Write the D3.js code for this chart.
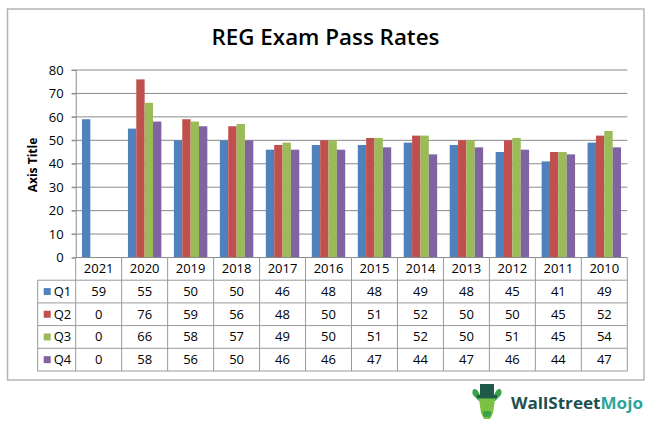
<!DOCTYPE html>
<html>
<head>
<meta charset="utf-8">
<script src="https://cdn.jsdelivr.net/npm/d3@7"></script>
<style>
  html, body { margin: 0; padding: 0; background: #fff; }
  svg { display: block; }
  text { font-family: "Open Sans", "Noto Sans", sans-serif; }
</style>
</head>
<body>
<svg id="chart" width="655" height="426"></svg>
<script>
const years = ["2021","2020","2019","2018","2017","2016","2015","2014","2013","2012","2011","2010"];
const seriesNames = ["Q1","Q2","Q3","Q4"];
const q1 = [59,55,50,50,46,48,48,49,48,45,41,49];
const q2 = [0,76,59,56,48,50,51,52,50,50,45,52];
const q3 = [0,66,58,57,49,50,51,52,50,51,45,54];
const q4 = [0,58,56,50,46,46,47,44,47,46,44,47];
const yTicks = [0,10,20,30,40,50,60,70,80];
const colors = ["#4F81BD","#C0504D","#9BBB59","#8064A2"];

const seriesValues = [q1,q2,q3,q4];
const svg = d3.select("#chart");

const L = 75.7, R = 627.3, T = 70, B = 257.5;
const rowH = 22.7;

// outer border
svg.append("rect").attr("x", 7.5).attr("y", 9).attr("width", 636.5).attr("height", 371)
  .attr("fill", "#fff").attr("stroke", "#b4b4b4").attr("stroke-width", 1.5);

// title
svg.append("text").attr("x", 325.5).attr("y", 45).attr("text-anchor", "middle")
  .attr("font-size", 22).attr("font-weight", 600).attr("fill", "#000")
  .attr("textLength", 228).attr("lengthAdjust", "spacingAndGlyphs")
  .text("REG Exam Pass Rates");

const x = d3.scaleBand().domain(years).range([L, R]).paddingInner(0).paddingOuter(0);
const xi = d3.scaleBand().domain(seriesNames).range([0, x.bandwidth()]).paddingInner(0).paddingOuter(0.75);
const y = d3.scaleLinear().domain([0, 80]).range([B, T]);

// gridlines
svg.append("g").selectAll("line").data(yTicks.filter(d => d > 0)).join("line")
  .attr("x1", L - 4).attr("x2", R).attr("y1", d => y(d)).attr("y2", d => y(d))
  .attr("stroke", "#8a8a8a").attr("stroke-width", 1);

// y axis
const yAxis = d3.axisLeft(y).tickValues(yTicks).tickSize(4).tickPadding(8);
const gy = svg.append("g").attr("transform", `translate(${L},0)`).call(yAxis);
gy.select(".domain").attr("stroke", "#8a8a8a");
gy.selectAll(".tick line").attr("stroke", "#8a8a8a");
gy.selectAll(".tick text").attr("font-size", 13).attr("fill", "#000")
  .attr("font-family", "'Open Sans', sans-serif");

// axis title
svg.append("text").attr("transform", `translate(37,165) rotate(-90)`)
  .attr("text-anchor", "middle").attr("font-size", 12).attr("font-weight", 700)
  .attr("fill", "#000").text("Axis Title");

// bars
const gBars = svg.append("g");
seriesNames.forEach((s, si) => {
  gBars.append("g").selectAll("rect").data(years.map((yr, i) => ({yr, v: seriesValues[si][i]})))
    .join("rect")
    .attr("x", d => x(d.yr) + xi(s))
    .attr("width", xi.bandwidth())
    .attr("y", d => y(d.v))
    .attr("height", d => B - y(d.v))
    .attr("fill", colors[si]);
});

// data table
const tbl = svg.append("g");
const lineColor = "#9a9a9a";
const legL = 37.7;
// horizontal lines
const hY = [B, B + rowH, B + 2*rowH, B + 3*rowH, B + 4*rowH, B + 5*rowH];
hY.forEach((yy, i) => {
  tbl.append("line").attr("x1", i === 0 ? L : legL).attr("x2", R)
    .attr("y1", yy).attr("y2", yy).attr("stroke", i === 0 ? "#8a8a8a" : lineColor);
});
// vertical lines
years.forEach(yr => {
  tbl.append("line").attr("x1", x(yr)).attr("x2", x(yr)).attr("y1", B).attr("y2", B + 5*rowH)
    .attr("stroke", lineColor);
});
tbl.append("line").attr("x1", R).attr("x2", R).attr("y1", B).attr("y2", B + 5*rowH).attr("stroke", lineColor);
tbl.append("line").attr("x1", legL).attr("x2", legL).attr("y1", B + rowH).attr("y2", B + 5*rowH).attr("stroke", lineColor);

// header labels
tbl.selectAll("text.hdr").data(years).join("text").attr("class", "hdr")
  .attr("x", d => x(d) + x.bandwidth()/2).attr("y", B + rowH/2 + 4.5)
  .attr("text-anchor", "middle").attr("font-size", 13).attr("fill", "#000").text(d => d);

// rows
seriesNames.forEach((s, si) => {
  const cy = B + rowH*(si + 1) + rowH/2;
  tbl.append("rect").attr("x", legL + 6).attr("y", cy - 3.5).attr("width", 7).attr("height", 7).attr("fill", colors[si]);
  tbl.append("text").attr("x", legL + 16).attr("y", cy + 4.5).attr("font-size", 13).attr("fill", "#000").text(s);
  tbl.append("g").selectAll("text").data(years.map((yr, i) => ({yr, v: seriesValues[si][i]})))
    .join("text")
    .attr("x", d => x(d.yr) + x.bandwidth()/2).attr("y", cy + 4.5)
    .attr("text-anchor", "middle").attr("font-size", 13).attr("fill", "#000").text(d => d.v);
});

// watermark logo
const logo = svg.append("g").attr("transform", "translate(487,403)");
logo.append("path").attr("d", "M-14,-8 C-16,-14 -12,-16 -9,-12 L-6,-6 L6,-6 L9,-12 C12,-16 16,-14 14,-8 L8,-2 L-8,-2 Z").attr("fill", "#3aa14a");
logo.append("rect").attr("x", -7).attr("y", -19).attr("width", 14).attr("height", 12).attr("fill", "#1f5a4a");
logo.append("rect").attr("x", -10).attr("y", -8).attr("width", 20).attr("height", 3).attr("fill", "#1f5a4a");
logo.append("path").attr("d", "M-8,-4 L8,-4 L6,10 L3,16 L-3,16 L-6,10 Z").attr("fill", "#7cc242");
logo.append("rect").attr("x", -4).attr("y", 8).attr("width", 8).attr("height", 6).attr("rx", 2).attr("fill", "#3aa14a");
const wt = svg.append("text").attr("x", 511).attr("y", 409).attr("font-size", 16).attr("font-weight", 700)
  .attr("textLength", 132).attr("lengthAdjust", "spacingAndGlyphs");
wt.append("tspan").attr("fill", "#1d4f4f").text("WallStreet");
wt.append("tspan").attr("fill", "#2aa59a").text("Mojo");
</script>
</body>
</html>
